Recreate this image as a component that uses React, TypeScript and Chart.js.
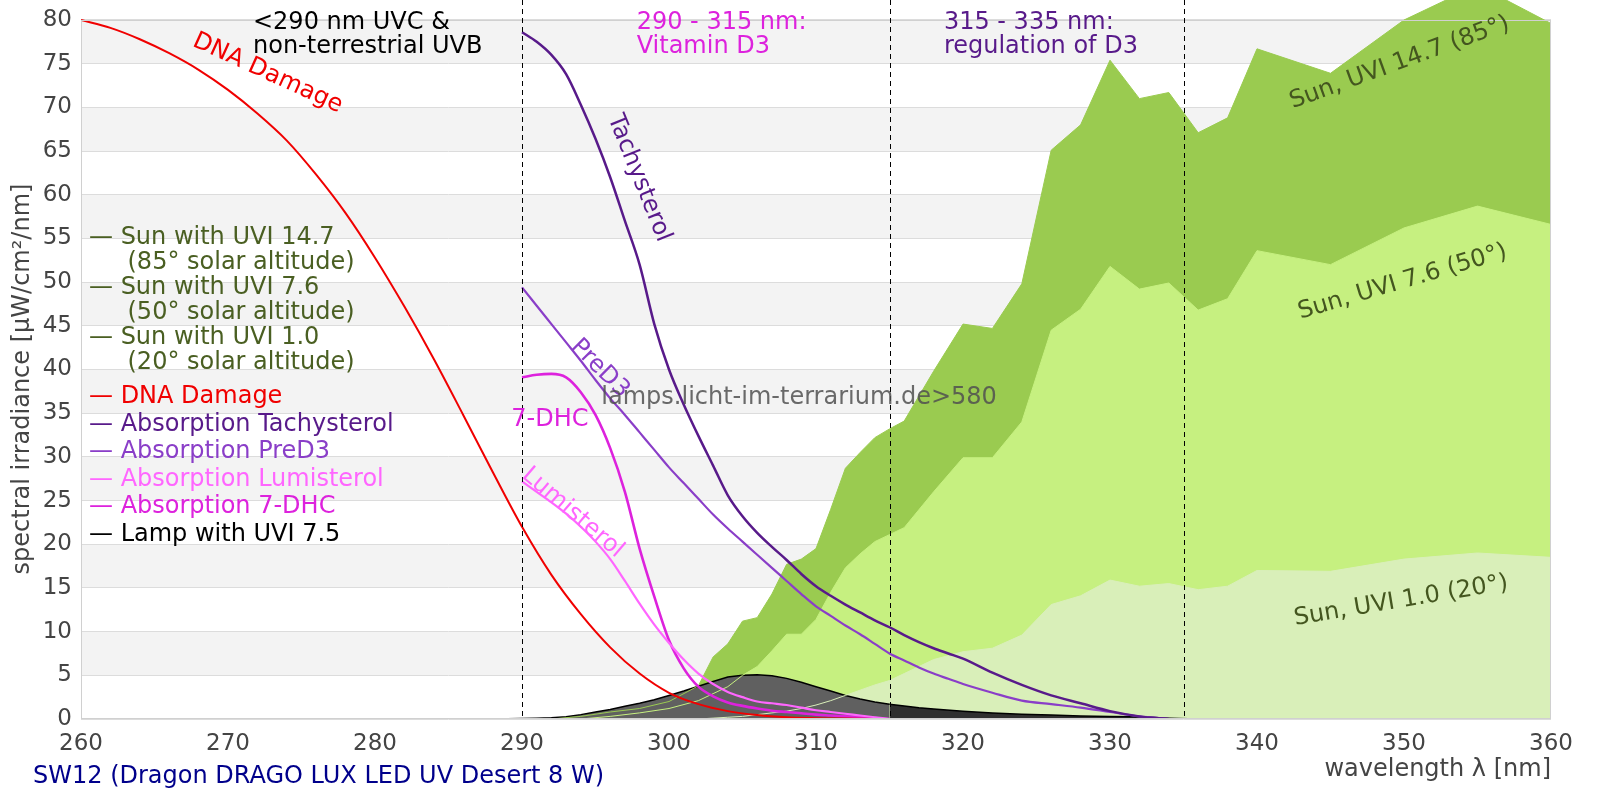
import { useEffect, useRef } from 'react';
import Chart from 'chart.js/auto';

const FONT = '"DejaVu Sans", Verdana, sans-serif';

// wavelength [nm] -> spectral irradiance / relative absorption
const dnaNm = [260, 262, 264, 266, 268, 270, 272, 274, 276, 278, 280, 282, 284, 286, 288, 290, 292, 294, 296, 298, 300, 302, 304, 306, 308, 310, 312, 314];
const dnaDamage = [80, 79.1, 77.8, 76.2, 74.3, 72, 69.3, 66.2, 62.3, 57.9, 52.8, 47.2, 41.2, 34.8, 28.3, 22, 16.5, 12, 8.2, 5.2, 3.0, 1.7, 0.9, 0.45, 0.2, 0.1, 0.05, 0];

const absNm = [290, 291, 292, 293, 294, 295, 296, 297, 298, 299, 300, 301, 302, 303, 304, 305, 306, 307, 308, 309, 310, 311, 312, 313, 314, 315, 316, 317, 318, 319, 320, 322, 324, 326, 328, 330, 332, 334];
const tachysterol = [78.6, 77.5, 76, 73.8, 70.3, 66.4, 62, 57, 52, 45.2, 40, 36, 32.4, 29, 25.6, 23.2, 21.3, 19.7, 18.2, 16.6, 15.2, 14.1, 13.1, 12.2, 11.3, 10.5, 9.6, 8.8, 8.1, 7.5, 6.9, 5.3, 3.9, 2.7, 1.8, 0.9, 0.3, 0];
const preD3 = [49.4, 47.3, 45.2, 43.1, 41, 38.8, 36.7, 34.8, 32.8, 30.8, 28.8, 27, 25.2, 23.4, 21.8, 20.3, 18.8, 17.3, 15.8, 14.3, 12.9, 11.8, 10.7, 9.7, 8.6, 7.5, 6.7, 5.9, 5.2, 4.6, 4.0, 3.0, 2.1, 1.7, 1.3, 0.8, 0.3, 0];
const lumisterol = [27.2, 26, 24.8, 23.5, 22, 20.3, 18.3, 15.8, 13.2, 10.8, 8.7, 6.8, 5.2, 4, 3.1, 2.5, 2.0, 1.8, 1.6, 1.3, 1.0, 0.8, 0.6, 0.4, 0.2, 0, null, null, null, null, null, null, null, null, null, null, null, null];
const dhc7 = [39.1, 39.4, 39.5, 39.1, 37.4, 34.8, 31, 26, 19.5, 14, 9, 5.8, 3.7, 2.6, 1.9, 1.5, 1.2, 0.95, 0.8, 0.65, 0.5, 0.4, 0.3, 0.2, 0.1, 0, null, null, null, null, null, null, null, null, null, null, null, null];

const sunNm = [292, 294, 296, 298, 300, 302, 303, 304, 305, 306, 307, 308, 309, 310, 311, 312, 313, 314, 315, 316, 318, 320, 322, 324, 326, 328, 330, 332, 334, 336, 338, 340, 345, 350, 355, 360];
const sunUvi147 = [0, 0.3, 0.8, 1.2, 2.0, 3.8, 7.1, 8.6, 11.2, 11.6, 14.3, 17.7, 18.3, 19.5, 24, 28.7, 30.5, 32.2, 33.2, 34.1, 39.8, 45.2, 44.7, 49.8, 65.1, 68, 75.4, 71, 71.7, 67.1, 68.8, 76.7, 73.9, 80, 84, 79.6];
const sunUvi76 = [0, 0, 0.3, 0.7, 1.2, 2.1, 2.9, 3.7, 5.0, 6.0, 7.8, 9.7, 9.7, 11.4, 14.5, 17.3, 18.9, 20.3, 21.1, 21.9, 26, 29.9, 29.9, 34, 44.5, 46.9, 51.8, 49.2, 49.9, 46.8, 48.1, 53.6, 52, 56.2, 58.7, 56.6];
const sunUvi10 = [0, 0, 0, 0, 0, 0, 0.1, 0.2, 0.3, 0.5, 0.7, 0.9, 1.2, 1.6, 2.1, 2.7, 3.3, 3.9, 4.4, 5.2, 6.8, 7.7, 8.1, 9.6, 13.1, 14.1, 15.9, 15.2, 15.5, 14.8, 15.2, 17, 16.9, 18.3, 19, 18.5];

const lampNm = [280, 284, 288, 290, 291, 292, 293, 294, 295, 296, 297, 298, 299, 300, 301, 302, 303, 304, 305, 306, 307, 308, 309, 310, 311, 312, 313, 314, 315, 316, 317, 318, 320, 322, 324, 326, 328, 330, 332, 334, 336, 338];
const lampUvi75 = [0, 0, 0, 0.05, 0.1, 0.15, 0.25, 0.5, 0.8, 1.1, 1.45, 1.8, 2.2, 2.7, 3.2, 3.75, 4.3, 4.8, 5.0, 5.05, 4.95, 4.65, 4.2, 3.7, 3.2, 2.7, 2.3, 1.95, 1.7, 1.5, 1.3, 1.15, 0.9, 0.7, 0.55, 0.45, 0.35, 0.3, 0.25, 0.1, 0, 0];

const xTicks = [260, 270, 280, 290, 300, 310, 320, 330, 340, 350, 360];
const yTicks = [0, 5, 10, 15, 20, 25, 30, 35, 40, 45, 50, 55, 60, 65, 70, 75, 80];
const bandLimits = [290, 315, 335];

const legendLines = [
  '— Sun with UVI 14.7', '(85° solar altitude)',
  '— Sun with UVI 7.6', '(50° solar altitude)',
  '— Sun with UVI 1.0', '(20° solar altitude)',
  '— DNA Damage', '— Absorption Tachysterol', '— Absorption PreD3',
  '— Absorption Lumisterol', '— Absorption 7-DHC', '— Lamp with UVI 7.5',
];

const RED = '#f00000';
const TACHY = '#581a8a';
const PRED3 = '#8a3ec8';
const LUMI = '#ff66ff';
const DHC = '#dd22dd';
const OLIVE = '#4a5f22';
const SUN1 = '#9acb50';
const SUN2 = '#c6f080';
const SUN3 = '#d9efb9';

const legendColors = [OLIVE, OLIVE, OLIVE, OLIVE, OLIVE, OLIVE, RED, TACHY, PRED3, LUMI, DHC, '#000'];
const legendY = [244, 268.5, 294, 318.5, 344, 368.5, 403, 431, 458, 486, 513, 541];

// plot box: value 80 sits at y=20 px, value 0 at y=719 px; the area runs up to the canvas top
const Y80 = 20;
const Y0 = 719;
const yMax = (80 * Y0) / (Y0 - Y80);

const pts = (xs: number[], ys: (number | null)[]) => xs.map((x, i) => ({ x, y: ys[i] }));

const curve = (label: string, xs: number[], ys: (number | null)[], color: string, width: number) => ({
  label,
  data: pts(xs, ys),
  borderColor: color,
  borderWidth: width,
  pointRadius: 0,
  cubicInterpolationMode: 'monotone' as const,
  fill: false,
});

const area = (label: string, ys: number[], color: string) => ({
  label,
  data: pts(sunNm, ys),
  borderColor: color,
  backgroundColor: color,
  borderWidth: 0,
  pointRadius: 0,
  fill: 'origin',
});

const outline = (ys: number[], color: string) => ({
  label: 'outline',
  data: pts(sunNm, ys),
  borderColor: color,
  borderWidth: 1,
  pointRadius: 0,
  fill: false,
});

const lampPart = (keep: (x: number) => boolean, color: string) => {
  const xs = lampNm.filter(keep);
  return {
    label: 'Lamp with UVI 7.5',
    data: xs.map((x) => ({ x, y: lampUvi75[lampNm.indexOf(x)] })),
    borderColor: '#000',
    backgroundColor: color,
    borderWidth: 1.5,
    pointRadius: 0,
    fill: 'origin',
    segment: {
      borderDash: (c: any) => (c.p0.parsed.y === 0 && c.p1.parsed.y === 0 ? [6, 7] : undefined),
    },
  };
};

const overlay = {
  id: 'overlay',
  beforeDraw(chart: any) {
    const { ctx, chartArea: a, scales: { y } } = chart;
    ctx.save();
    ctx.fillStyle = '#f3f3f3';
    for (let v = 5; v < 80; v += 10) {
      const top = y.getPixelForValue(v + 5);
      ctx.fillRect(a.left, top, a.right - a.left, y.getPixelForValue(v) - top);
    }
    ctx.restore();
  },
  afterDraw(chart: any) {
    const { ctx, chartArea: a, scales: { x, y } } = chart;
    const top80 = y.getPixelForValue(80);
    ctx.save();

    // plot frame
    ctx.strokeStyle = '#d0d0d0';
    ctx.lineWidth = 1;
    ctx.strokeRect(a.left + 0.5, top80 + 0.5, a.right - a.left - 1, a.bottom - top80 - 1);

    // region limits
    ctx.strokeStyle = '#000';
    ctx.setLineDash([5, 4]);
    bandLimits.forEach((nm) => {
      const px = Math.round(x.getPixelForValue(nm)) + 0.5;
      ctx.beginPath();
      ctx.moveTo(px, 0);
      ctx.lineTo(px, a.bottom);
      ctx.stroke();
    });
    ctx.setLineDash([]);

    const put = (s: string, px: number, py: number, color: string, opts: any = {}) => {
      ctx.save();
      ctx.font = `${opts.size || 24}px ${FONT}`;
      ctx.fillStyle = color;
      ctx.translate(px, py);
      ctx.rotate(((opts.angle || 0) * Math.PI) / 180);
      ctx.textAlign = opts.align || 'left';
      ctx.textBaseline = opts.baseline || 'alphabetic';
      ctx.fillText(s, 0, 0);
      ctx.restore();
    };
    const onPlot = (s: string, nm: number, v: number, color: string, angle: number) =>
      put(s, x.getPixelForValue(nm), y.getPixelForValue(v), color, { angle, align: 'center', baseline: 'middle' });

    // headers of the regions
    put('<290 nm UVC &', x.getPixelForValue(271.7), 29, '#000');
    put('non-terrestrial UVB', x.getPixelForValue(271.7), 53, '#000');
    put('290 - 315 nm:', x.getPixelForValue(297.8), 29, DHC);
    put('Vitamin D3', x.getPixelForValue(297.8), 53, DHC);
    put('315 - 335 nm:', x.getPixelForValue(318.7), 29, TACHY);
    put('regulation of D3', x.getPixelForValue(318.7), 53, TACHY);

    // curve labels
    onPlot('DNA Damage', 272.7, 73.9, RED, 24.5);
    onPlot('Tachysterol', 297.96, 61.9, TACHY, 68);
    onPlot('PreD3', 295.3, 40.1, PRED3, 45);
    onPlot('7-DHC', 291.9, 34.3, DHC, 0);
    onPlot('Lumisterol', 293.45, 23.6, LUMI, 40.5);
    onPlot('Sun, UVI 14.7 (85°)', 349.7, 75.1, '#44561f', -20);
    onPlot('Sun, UVI 7.6 (50°)', 349.9, 50.0, '#44561f', -16.5);
    onPlot('Sun, UVI 1.0 (20°)', 349.8, 13.5, '#44561f', -9.5);
    onPlot('lamps.licht-im-terrarium.de>580', 308.85, 36.8, 'rgba(80,80,80,0.85)', 0);

    // legend
    legendLines.forEach((s, i) => {
      put(s, s.startsWith('(') ? 127.5 : 89, legendY[i], legendColors[i]);
    });

    // axis titles and caption
    put('spectral irradiance [µW/cm²/nm]', 29, 379, '#444', { angle: -90, align: 'center' });
    put('wavelength λ [nm]', a.right, 776, '#444', { align: 'right' });
    put('SW12 (Dragon DRAGO LUX LED UV Desert 8 W)', 33, 783, '#00008b');
    ctx.restore();
  },
};

export default function App() {
  const canvasRef = useRef<HTMLCanvasElement>(null);

  useEffect(() => {
    const chart = new Chart(canvasRef.current!, {
      type: 'line',
      data: {
        datasets: [
          curve('DNA Damage', dnaNm, dnaDamage, RED, 2),
          curve('Absorption Tachysterol', absNm, tachysterol, TACHY, 2.5),
          curve('Absorption PreD3', absNm, preD3, PRED3, 2.2),
          curve('Absorption Lumisterol', absNm, lumisterol, LUMI, 2.2),
          curve('Absorption 7-DHC', absNm, dhc7, DHC, 2.6),
          outline(sunUvi10, SUN3),
          outline(sunUvi76, SUN2),
          outline(sunUvi147, SUN1),
          lampPart((nm) => nm >= 315, '#303030'),
          lampPart((nm) => nm <= 315, '#606060'),
          area('Sun with UVI 1.0', sunUvi10, SUN3),
          area('Sun with UVI 7.6', sunUvi76, SUN2),
          area('Sun with UVI 14.7', sunUvi147, SUN1),
        ] as any,
      },
      options: {
        animation: false,
        responsive: false,
        devicePixelRatio: 1,
        layout: { padding: { top: 0, right: 49, left: 0, bottom: 0 } },
        plugins: { legend: { display: false }, tooltip: { enabled: false } },
        scales: {
          x: {
            type: 'linear',
            min: 260,
            max: 360,
            bounds: 'data',
            afterFit: (s: any) => {
              s.height = 800 - Y0;
              s.paddingLeft = 0;
              s.paddingRight = 0;
            },
            afterBuildTicks: (s: any) => { s.ticks = xTicks.map((value) => ({ value })); },
            grid: { display: false },
            border: { display: false },
            ticks: { color: '#444', font: { family: FONT, size: 23 }, padding: 3, maxRotation: 0 },
          },
          y: {
            min: 0,
            max: yMax,
            bounds: 'data',
            afterFit: (s: any) => {
              s.width = 81;
              s.paddingTop = 0;
              s.paddingBottom = 0;
            },
            afterBuildTicks: (s: any) => { s.ticks = yTicks.map((value) => ({ value })); },
            grid: { color: '#dcdcdc', drawTicks: false },
            border: { display: false },
            ticks: { color: '#444', font: { family: FONT, size: 23 }, padding: 9 },
          },
        },
      },
      plugins: [overlay],
    });
    return () => chart.destroy();
  }, []);

  return (
    <div style={{ position: 'fixed', left: 0, top: 0, width: 1600, height: 800, background: '#fff' }}>
      <canvas ref={canvasRef} width={1600} height={800} style={{ width: 1600, height: 800, display: 'block' }} />
    </div>
  );
}
